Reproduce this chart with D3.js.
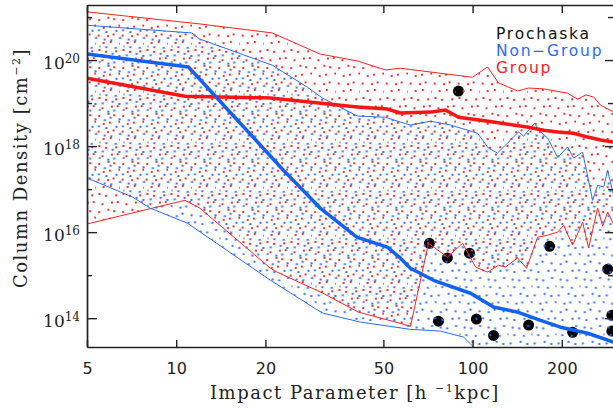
<!DOCTYPE html>
<html>
<head>
<meta charset="utf-8">
<script src="https://cdn.jsdelivr.net/npm/d3@7"></script>
<style>
  body { margin: 0; background: #fff; }
  svg { display: block; }
</style>
</head>
<body>
<svg id="chart" width="613" height="409"></svg>
<script>
// impact parameter [h^-1 kpc], log10 column density [cm^-2]
let nonGroupMed = [[5,20.14],[11.0,19.84],[23.0,17.44],[30.6,16.56],[40.8,15.88],[51.6,15.65],[57.0,15.40],
  [61.7,15.16],[73.8,14.88],[98.4,14.58],[117.6,14.26],[141.8,14.14],[169.6,13.95],[198.1,13.79],[244.4,13.65],[300,13.44]];
let nonGroupHi = [[5,20.81],[11.3,20.63],[12.0,20.49],[21.1,19.88],[27.7,19.37],[31.1,19.12],[40.8,18.70],[50.8,18.67],
  [57.0,18.56],[61.7,18.49],[72.1,18.58],[84.2,18.49],[103.9,18.30],[113.2,17.95],[121.4,17.84],[134.3,18.14],[142.9,18.33],
  [148.6,18.23],[154.5,18.37],[161.9,18.53],[169.6,18.33],[179.1,18.19],[193.6,17.74],[209.2,17.98],[219.2,17.72],
  [235.1,17.86],[254.1,16.74],[264.2,17.09],[276.9,17.05],[285.6,17.44],[300,16.81]];
let nonGroupLo = [[5,17.26],[7.15,16.81],[8.16,16.56],[10.9,16.21],[20.8,14.88],[31.1,14.12],[41.8,13.91],[61.7,13.74],
  [77.9,13.70],[93.2,13.56],[100.7,13.33],[106,12.9],[300,12.9]];

let groupMed = [[5,19.58],[10.7,19.16],[20.8,19.12],[40.8,18.91],[51.6,18.86],[57.0,18.77],[72.1,18.79],[81.0,18.84],
  [89.6,18.67],[117.6,18.56],[154.5,18.44],[173.6,18.37],[193.6,18.33],[219.2,18.30],[244.4,18.21],[270.4,18.14],[300,18.09]];
let groupHi = [[5,21.12],[12.0,20.84],[21.1,20.63],[30.6,20.14],[40.8,19.98],[50.8,19.77],[57.0,19.81],[99.9,19.60],
  [112.3,19.84],[122.3,19.47],[141.8,19.28],[154.5,19.35],[173.6,19.33],[209.2,19.23],[226.1,19.09],[241,19.19],
  [256.1,19.14],[270.4,18.95],[300,18.79]];
let groupLo = [[5,16.19],[10.7,16.74],[12.0,16.56],[20.8,15.16],[21.9,15.07],[31.3,14.58],[41.2,14.14],[57.0,13.88],
  [61.7,13.81],[71.0,15.74],[82.3,15.42],[92.5,15.74],[102.3,15.19],[112.3,15.07],[122.3,15.23],[129.2,15.19],
  [141.8,15.40],[152.1,15.16],[165.7,15.88],[179.1,15.93],[193.6,16.00],[202.8,16.16],[217.5,15.70],[235.1,16.23],
  [246.3,15.63],[264.2,16.56],[274.7,16.14],[285.6,16.47],[300,16.16]];

let prochaska = [[89.6,19.28],[71.5,15.74],[82.2,15.40],[97.6,15.51],[181.9,15.67],[285.7,15.14],[76.7,13.93],
  [103,13.98],[117.7,13.60],[154.5,13.84],[217.6,13.67],[295,14.07],[295,13.70]];

let xTicks = [5, 10, 20, 50, 100, 200];
let yMajor = [14, 16, 18, 20];
let yMinor = [15, 17, 19, 21];

let red = '#ff2020', blue = '#2a6aff';
let redThick = '#ff1414', blueThick = '#1262f2';

let pLeft = 87, pRight = 614, pTop = 5, pBottom = 347;

let svg = d3.select('#chart');

let x = d3.scaleLog().domain([5, 300]).range([pLeft, pRight]);
let y = d3.scaleLinear().domain([13.33, 21.28]).range([pBottom, pTop]);

let defs = svg.append('defs');
defs.append('clipPath').attr('id', 'plotClip')
  .append('rect').attr('x', pLeft).attr('y', pTop).attr('width', pRight - pLeft).attr('height', pBottom - pTop);

// dot fill patterns, a jittered hex grid so it looks like the IDL stipple
function dotPattern(id, color, jit, shift) {
  let p = defs.append('pattern')
    .attr('id', id)
    .attr('patternUnits', 'userSpaceOnUse')
    .attr('width', 24).attr('height', 48)
    .attr('patternTransform', `translate(${shift[0]},${shift[1]})`);
  let k = 0;
  for (let r = 0; r < 6; r++) {
    for (let c = 0; c < 3; c++) {
      let j = jit[k++ % jit.length];
      p.append('rect')
        .attr('x', c * 8 + (r % 2) * 4 + 2 + j[0])
        .attr('y', r * 8 + 2 + j[1])
        .attr('width', 2).attr('height', 2)
        .attr('fill', color);
    }
  }
}
dotPattern('redDots', '#ff2e2e',
  [[0.5,-1],[-1,0.8],[1.2,0.3],[-0.6,1.3],[0.9,-0.4],[-1.3,-0.9],[0.2,1.1],[1.4,-1.2],[-0.8,0.2],
   [0.7,0.9],[-1.1,-0.3],[0.3,-1.4],[-0.4,0.6],[1.1,1.2],[-1.4,-0.6],[0.6,0.1],[-0.2,-1.1],[1.3,0.7]], [0, 0]);
dotPattern('blueDots', '#2f6eff',
  [[-0.7,0.4],[1.1,-1.2],[-0.2,1.0],[0.8,0.6],[-1.3,-0.5],[0.4,-0.9],[1.3,1.2],[-0.9,-1.3],[0.1,0.3],
   [-1.1,1.1],[0.9,-0.2],[-0.5,-0.7],[1.2,0.5],[-0.3,1.4],[0.6,-1.1],[-1.2,0.2],[0.3,0.8],[1.0,-0.6]], [4.5, 4]);

let plot = svg.append('g').attr('clip-path', 'url(#plotClip)');

let line = d3.line().x(d => x(d[0])).y(d => y(d[1]));

function band(hi, lo) {
  return line(hi.concat(lo.slice().reverse())) + 'Z';
}

// data points
plot.selectAll('circle.pro')
  .data(prochaska)
  .enter()
  .append('circle')
  .attr('class', 'pro')
  .attr('cx', d => x(d[0]))
  .attr('cy', d => y(d[1]))
  .attr('r', 5.5)
  .style('fill', '#000');

plot.append('path').attr('d', band(groupHi, groupLo)).style('fill', 'url(#redDots)');
plot.append('path').attr('d', band(nonGroupHi, nonGroupLo)).style('fill', 'url(#blueDots)');

[[groupHi, red, 1], [groupLo, red, 1], [nonGroupHi, blue, 1], [nonGroupLo, blue, 1],
 [groupMed, redThick, 3.5], [nonGroupMed, blueThick, 3.5]].forEach(s => {
  plot.append('path')
    .attr('d', line(s[0]))
    .style('fill', 'none')
    .style('stroke', s[1])
    .style('stroke-width', s[2])
    .style('stroke-linejoin', 'round');
});

// axes
let axisColor = '#222';

let gBottom = svg.append('g').attr('transform', `translate(0,${pBottom})`)
  .call(d3.axisBottom(x).tickValues(xTicks).tickFormat(d3.format('d')).tickSizeInner(-7).tickSizeOuter(0).tickPadding(16));
gBottom.selectAll('text').style('font-family', '"DejaVu Sans", sans-serif').style('font-size', '16px').style('fill', '#222');

svg.append('g').attr('transform', `translate(0,${pTop})`)
  .call(d3.axisTop(x).tickValues(xTicks).tickFormat('').tickSizeInner(-8).tickSizeOuter(0));

let gLeft = svg.append('g').attr('transform', `translate(${pLeft},0)`)
  .call(d3.axisLeft(y).tickValues(yMajor).tickSizeInner(-10).tickSizeOuter(0).tickPadding(7));
gLeft.selectAll('text').each(function(d) {
  let t = d3.select(this).text('').attr('dy', '0.5em')
    .style('font-family', '"DejaVu Serif", serif').style('font-size', '17px').style('fill', '#222');
  t.append('tspan').text('10');
  t.append('tspan').attr('dy', '-0.5em').style('font-size', '12px').text(d);
});
svg.append('g').attr('transform', `translate(${pLeft},0)`)
  .call(d3.axisLeft(y).tickValues(yMinor).tickFormat('').tickSizeInner(-5).tickSizeOuter(0));

svg.append('g').attr('transform', `translate(${pRight},0)`)
  .call(d3.axisRight(y).tickValues(yMajor).tickFormat('').tickSizeInner(-9).tickSizeOuter(0));
svg.append('g').attr('transform', `translate(${pRight},0)`)
  .call(d3.axisRight(y).tickValues(yMinor).tickFormat('').tickSizeInner(-6).tickSizeOuter(0));

svg.selectAll('.domain, .tick line').style('stroke', axisColor).style('stroke-width', 1.4);

// axis titles
let xt = svg.append('text')
  .attr('x', 210).attr('y', 399)
  .style('font-family', '"DejaVu Serif", serif').style('font-size', '18px')
  .style('letter-spacing', '1.5px').style('fill', '#222');
xt.append('tspan').text('Impact Parameter [h ');
xt.append('tspan').attr('dy', '-7').style('font-size', '11px').text('\u22121');
xt.append('tspan').attr('dy', '7').text('kpc]');

let yt = svg.append('text')
  .attr('transform', 'translate(27,288) rotate(-90)')
  .style('font-family', '"DejaVu Serif", serif').style('font-size', '18px')
  .style('letter-spacing', '1.5px').style('fill', '#222');
yt.append('tspan').text('Column Density [cm');
yt.append('tspan').attr('dy', '-7').style('font-size', '11px').text('\u22122');
yt.append('tspan').attr('dy', '7').text(']');

// legend
let legend = [['Prochaska', '#111'], ['Non\u2212Group', blue], ['Group', red]];
svg.selectAll('text.leg')
  .data(legend)
  .enter()
  .append('text')
  .attr('class', 'leg')
  .attr('x', 496)
  .attr('y', (d, i) => 39 + i * 17)
  .style('font-family', '"DejaVu Sans", sans-serif')
  .style('font-size', '15.5px')
  .style('letter-spacing', '1.8px')
  .style('fill', d => d[1])
  .text(d => d[0]);
</script>
</body>
</html>
